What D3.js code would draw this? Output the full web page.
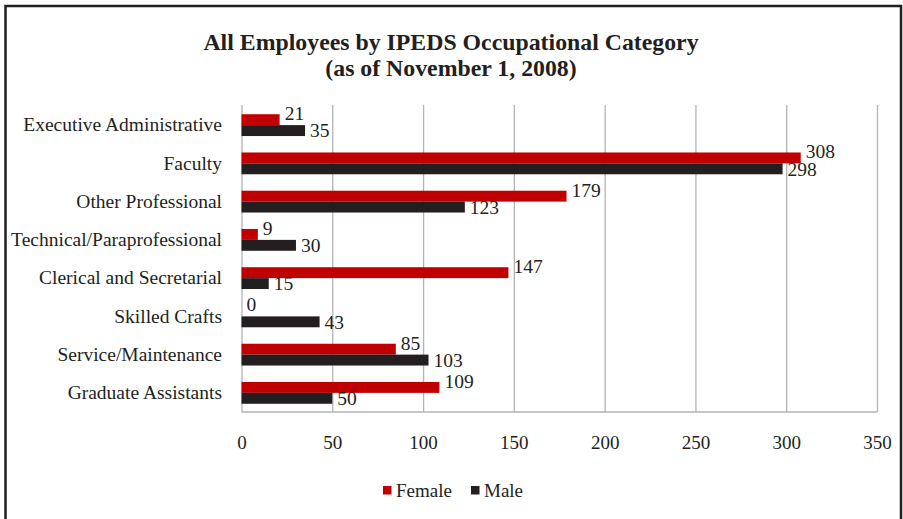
<!DOCTYPE html>
<html>
<head>
<meta charset="utf-8">
<script src="https://cdn.jsdelivr.net/npm/d3@7"></script>
<style>
  body { margin: 0; background: #fff; }
  svg text { font-family: "Liberation Serif", "Times New Roman", serif; fill: #231f20; }
</style>
</head>
<body>
<div id="chart"></div>
<script>
// Chart size
const width = 903;
const height = 519;
const margin = {left: 241.5, right: 26, top: 105, bottom: 107};

// Data
const categories = [
  "Executive Administrative",
  "Faculty",
  "Other Professional",
  "Technical/Paraprofessional",
  "Clerical and Secretarial",
  "Skilled Crafts",
  "Service/Maintenance",
  "Graduate Assistants"
];
const female = [21, 308, 179, 9, 147, 0, 85, 109];
const male = [35, 298, 123, 30, 15, 43, 103, 50];
const seriesNames = ["Female", "Male"];
const xTicks = [0, 50, 100, 150, 200, 250, 300, 350];

const colors = {Female: "#c00000", Male: "#231f20"};

const rows = categories.map((c, i) => ({name: c, Female: female[i], Male: male[i]}));

const svg = d3.select("#chart")
  .append("svg")
  .attr("width", width)
  .attr("height", height);

// outer frame
svg.append("rect")
  .attr("x", 5.5)
  .attr("y", 6)
  .attr("width", 895.5)
  .attr("height", 540)
  .attr("fill", "none")
  .attr("stroke", "#231f20")
  .attr("stroke-width", 2.5);

// title
const title = svg.append("text")
  .attr("text-anchor", "middle")
  .attr("font-size", "23.8px")
  .attr("font-weight", "bold");
title.append("tspan").attr("x", 451).attr("y", 49.5).text("All Employees by IPEDS Occupational Category");
title.append("tspan").attr("x", 451).attr("y", 76).text("(as of November 1, 2008)");

// scales
let xScale = d3.scaleLinear()
  .domain([0, 350])
  .range([margin.left, width - margin.right]);

let yScale = d3.scaleBand()
  .domain(categories)
  .range([margin.top + 1, height - margin.bottom])
  .paddingInner(0.43)
  .paddingOuter(0.215);

let ySub = d3.scaleBand()
  .domain(seriesNames)
  .range([0, yScale.bandwidth()]);

const plotBottom = height - margin.bottom;

// x axis with grid lines
const xAxis = svg.append("g")
  .attr("transform", `translate(0,${plotBottom})`)
  .call(d3.axisBottom(xScale)
    .tickValues(xTicks)
    .tickSize(-(plotBottom - margin.top))
    .tickPadding(23.5));
xAxis.select(".domain").remove();
xAxis.selectAll(".tick line").attr("stroke", "#b3b3b3").attr("stroke-width", 1.3);
xAxis.selectAll(".tick text")
  .attr("font-size", "19px")
  .attr("font-family", "Liberation Serif, serif")
  .attr("fill", "#231f20");

// bottom axis line
svg.append("line")
  .attr("x1", xScale(0))
  .attr("x2", xScale(350))
  .attr("y1", plotBottom)
  .attr("y2", plotBottom)
  .attr("stroke", "#b3b3b3")
  .attr("stroke-width", 1.3);

// category axis
const yAxis = svg.append("g")
  .attr("transform", `translate(${margin.left},0)`)
  .call(d3.axisLeft(yScale).tickSize(0).tickPadding(19.5));
yAxis.select(".domain").remove();
yAxis.selectAll(".tick text")
  .attr("font-size", "19.5px")
  .attr("font-family", "Liberation Serif, serif")
  .attr("fill", "#231f20");

// bars
const groups = svg.selectAll(".cat")
  .data(rows)
  .enter()
  .append("g")
  .attr("class", "cat")
  .attr("transform", d => `translate(0,${yScale(d.name)})`);

groups.selectAll("rect")
  .data(d => seriesNames.map(s => ({series: s, value: d[s]})))
  .enter()
  .append("rect")
  .attr("x", xScale(0))
  .attr("y", d => ySub(d.series))
  .attr("width", d => xScale(d.value) - xScale(0))
  .attr("height", ySub.bandwidth())
  .attr("fill", d => colors[d.series]);

// value labels
groups.selectAll("text.val")
  .data(d => seriesNames.map(s => ({series: s, value: d[s]})))
  .enter()
  .append("text")
  .attr("class", "val")
  .attr("x", d => xScale(d.value) + 5)
  .attr("y", d => d.series === "Female" ? ySub.bandwidth() / 2 - 6.5 : ySub.bandwidth() / 2 + 11)
  .attr("dy", "0.35em")
  .attr("font-size", "19.5px")
  .text(d => d.value);

// legend
const legend = svg.append("g").attr("transform", "translate(383,0)");
const legendX = [0, 88];
seriesNames.forEach((s, i) => {
  legend.append("rect")
    .attr("x", legendX[i])
    .attr("y", 486)
    .attr("width", 8.5)
    .attr("height", 8.5)
    .attr("fill", colors[s]);
  legend.append("text")
    .attr("x", legendX[i] + 13)
    .attr("y", 497)
    .attr("font-size", "19px")
    .text(s);
});
</script>
</body>
</html>
